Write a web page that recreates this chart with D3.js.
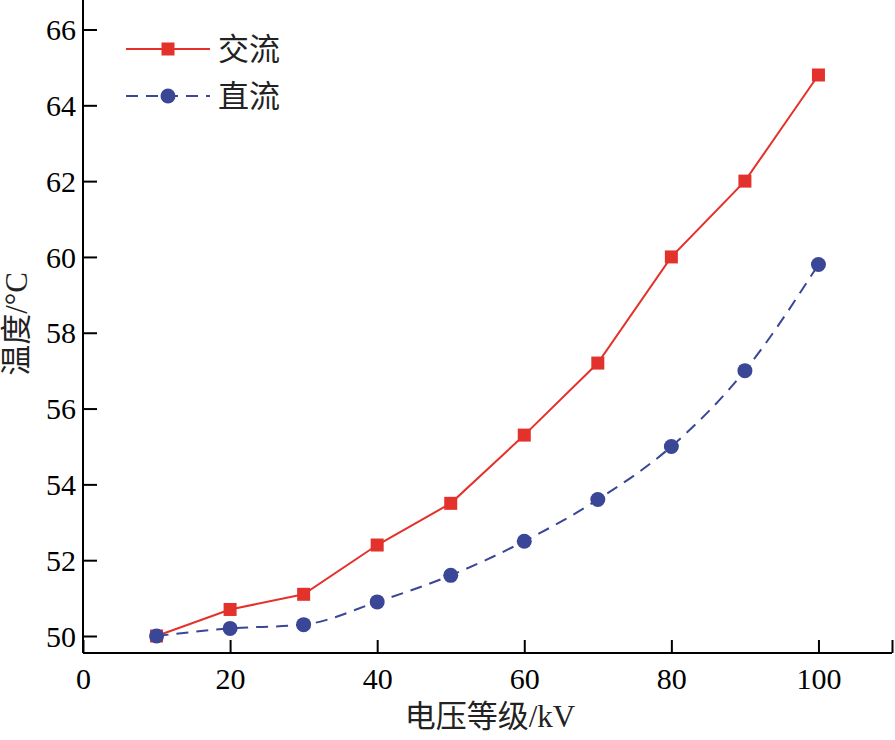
<!DOCTYPE html>
<html>
<head>
<meta charset="utf-8">
<script src="https://cdn.jsdelivr.net/npm/d3@7"></script>
<style>
  body { margin: 0; background: #fff; }
</style>
</head>
<body>
<div id="general"></div>
<script>
const w = 895, h = 740;
const font = "'Liberation Serif', 'Noto Sans CJK SC', serif";

// data
const voltage = [10, 20, 30, 40, 50, 60, 70, 80, 90, 100];
const acTemp = [50.0, 50.7, 51.1, 52.4, 53.5, 55.3, 57.2, 60.0, 62.0, 64.8];
const dcTemp = [50.0, 50.2, 50.3, 50.9, 51.6, 52.5, 53.6, 55.0, 57.0, 59.8];
const xTicks = [0, 20, 40, 60, 80, 100, 110];
const yTicks = [50, 52, 54, 56, 58, 60, 62, 64, 66];
const seriesNames = ["交流", "直流"];

const red = "#e3322b", blue = "#3a4696";

const svg = d3.select("#general").append("svg").attr("width", w).attr("height", h)
  .attr("font-family", font);

const x = d3.scaleLinear().domain([0, 110]).range([83, 892]);
const y = d3.scaleLinear().domain([50, 66]).range([636, 29.5]);
const yBottom = 653, yTop = 0;

// axes
const xAxis = svg.append("g").attr("transform", `translate(0,${yBottom})`)
  .call(d3.axisBottom(x).tickValues(xTicks).tickSizeInner(-13).tickSizeOuter(0)
    .tickFormat(d => d === 110 ? "" : d));
xAxis.attr("font-family", font).attr("font-size", 30);
xAxis.select(".domain").attr("d", `M${x(0)},0H${x(110)}`).attr("stroke-width", 2);
xAxis.selectAll(".tick line").attr("stroke-width", 2);
xAxis.selectAll(".tick text").attr("y", 15).attr("dy", "0.71em").attr("fill", "#000");

const yAxis = svg.append("g").attr("transform", `translate(${x(0)},0)`)
  .call(d3.axisLeft(y).tickValues(yTicks).tickSizeInner(-14).tickSizeOuter(0));
yAxis.attr("font-family", font).attr("font-size", 30);
yAxis.select(".domain").attr("d", `M0,${yTop}V${yBottom}`).attr("stroke-width", 2);
yAxis.selectAll(".tick line").attr("stroke-width", 2);
yAxis.selectAll(".tick text").attr("x", -7).attr("dy", "0.34em").attr("fill", "#000");

// lines
const acData = voltage.map((v, i) => [v, acTemp[i]]);
const dcData = voltage.map((v, i) => [v, dcTemp[i]]);

svg.append("path").datum(acData)
  .attr("fill", "none").attr("stroke", red).attr("stroke-width", 2)
  .attr("d", d3.line().x(d => x(d[0])).y(d => y(d[1])));

svg.append("path").datum(dcData)
  .attr("fill", "none").attr("stroke", blue).attr("stroke-width", 2)
  .attr("stroke-dasharray", "12,8")
  .attr("d", d3.line().curve(d3.curveMonotoneX).x(d => x(d[0])).y(d => y(d[1])));

svg.append("g").selectAll("rect").data(acData).join("rect")
  .attr("x", d => x(d[0]) - 6.5).attr("y", d => y(d[1]) - 6.5)
  .attr("width", 13).attr("height", 13).attr("fill", red);

svg.append("g").selectAll("circle").data(dcData).join("circle")
  .attr("cx", d => x(d[0])).attr("cy", d => y(d[1])).attr("r", 7.5).attr("fill", blue);

// legend
const legend = svg.append("g");
const ly = [49, 96];
legend.append("line").attr("x1", 126).attr("x2", 210).attr("y1", ly[0]).attr("y2", ly[0])
  .attr("stroke", red).attr("stroke-width", 2);
legend.append("rect").attr("x", 168 - 6.5).attr("y", ly[0] - 6.5).attr("width", 13).attr("height", 13).attr("fill", red);
legend.append("line").attr("x1", 126).attr("x2", 210).attr("y1", ly[1]).attr("y2", ly[1])
  .attr("stroke", blue).attr("stroke-width", 2).attr("stroke-dasharray", "12,8");
legend.append("circle").attr("cx", 168).attr("cy", ly[1]).attr("r", 7.5).attr("fill", blue);
legend.selectAll("text").data(seriesNames).join("text")
  .attr("x", 218).attr("y", (d, i) => ly[i]).attr("dy", "0.36em")
  .attr("font-size", 31).attr("fill", "#222").text(d => d);

// axis titles
svg.append("text").attr("x", 490).attr("y", 727)
  .attr("text-anchor", "middle").attr("font-size", 31).attr("fill", "#222").text("电压等级/kV");
svg.append("text").attr("transform", "translate(27,324) rotate(-90)")
  .attr("text-anchor", "middle").attr("font-size", 31).attr("fill", "#222").text("温度/°C");
</script>
</body>
</html>
